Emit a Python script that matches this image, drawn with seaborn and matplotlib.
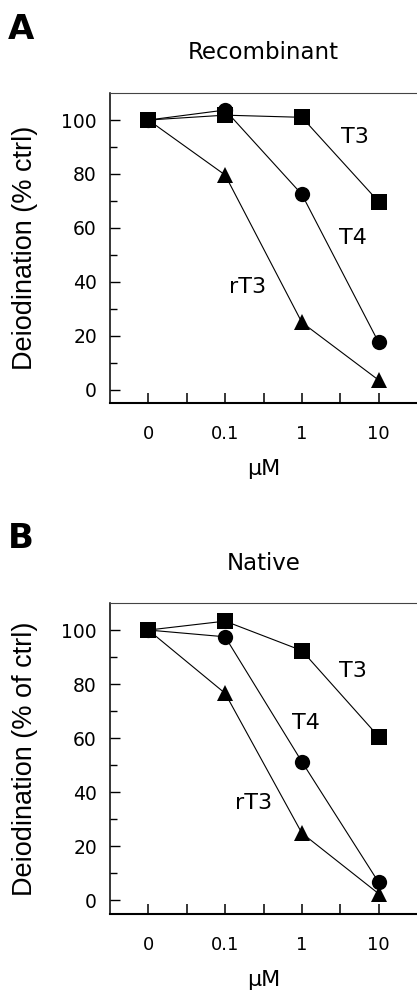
import pandas as pd
import matplotlib
matplotlib.use("Agg")
import matplotlib.pyplot as plt
import seaborn as sns
from matplotlib.ticker import FixedLocator

# === data ===
doses = ["0", "0.1", "1", "10"]
compounds = ["rT3", "T4", "T3"]  # drawing order, T3 ends up on top

recomb_t3 = [100, 101.8, 101.0, 69.7]
recomb_t4 = [100, 103.7, 72.4, 17.5]
recomb_rt3 = [100, 79.6, 24.9, 3.5]

native_t3 = [100, 103.3, 92.4, 60.6]
native_t4 = [100, 97.5, 51.3, 6.7]
native_rt3 = [100, 76.6, 24.9, 2.5]

y_ticks = [0, 20, 40, 60, 80, 100]


def make_long(t3, t4, rt3):
    rows = []
    for name, vals in [("rT3", rt3), ("T4", t4), ("T3", t3)]:
        for d, v in zip(doses, vals):
            rows.append({"dose": d, "compound": name, "value": v})
    return pd.DataFrame(rows)


recomb = make_long(recomb_t3, recomb_t4, recomb_rt3)
native = make_long(native_t3, native_t4, native_rt3)

# === style ===
sns.set_style("ticks")
plt.rcParams["font.family"] = ["DejaVu Sans"]
plt.rcParams["text.color"] = "black"
plt.rcParams["axes.labelcolor"] = "black"
plt.rcParams["xtick.color"] = "black"
plt.rcParams["ytick.color"] = "black"
plt.rcParams["xtick.direction"] = "in"
plt.rcParams["ytick.direction"] = "in"

fig = plt.figure(figsize=(4.17, 9.9), dpi=100)
ax_a = fig.add_axes([0.2638, 0.5929, 0.7362, 0.3131])
ax_b = fig.add_axes([0.2638, 0.0768, 0.7362, 0.3141])

markers = {"T3": "s", "T4": "o", "rT3": "^"}


def draw_panel(ax, df, ylabel, labels):
    sns.lineplot(data=df, x="dose", y="value", style="compound",
                 style_order=compounds, markers=markers, dashes=False,
                 color="black", linewidth=0.8, markersize=11,
                 markeredgecolor="black", markeredgewidth=0,
                 legend=False, ax=ax)
    ax.set_xlim(-0.5, 3.5)
    ax.set_ylim(-5, 110)
    ax.yaxis.set_major_locator(FixedLocator(y_ticks))
    ax.yaxis.set_minor_locator(FixedLocator([10, 30, 50, 70, 90]))
    ax.xaxis.set_minor_locator(FixedLocator([0.5, 1.5, 2.5]))
    ax.tick_params(axis="x", which="both", direction="in", length=7.2,
                   width=1.1, pad=16, labelsize=13, color="black",
                   labelcolor="black")
    ax.tick_params(axis="y", which="major", direction="in", length=7.2,
                   width=1.0, pad=9.4, labelsize=13.5, color="black",
                   labelcolor="black")
    ax.tick_params(axis="y", which="minor", direction="in", length=5,
                   width=1.0, color="black")
    ax.spines["right"].set_visible(False)
    ax.spines["bottom"].set_linewidth(1.5)
    ax.spines["left"].set_linewidth(1.1)
    ax.spines["top"].set_linewidth(0.8)
    ax.spines["top"].set_color("#444444")
    for s in ["bottom", "left"]:
        ax.spines[s].set_color("black")

    ax.set_ylabel(ylabel, fontsize=19.5, family="Liberation Sans", va="bottom")
    ax.yaxis.set_label_coords(-0.234, 0.5)
    ax.set_xlabel("µM", fontsize=16, va="baseline")
    ax.xaxis.set_label_coords(0.5, -0.232)

    for text, x, y in labels:
        ax.text(x, y, text, fontsize=16, ha="center", va="center")


draw_panel(ax_a, recomb, "Deiodination (% ctrl)",
           [("T3", 2.69, 93.7), ("T4", 2.666, 56.2), ("rT3", 1.298, 38.0)])
draw_panel(ax_b, native, "Deiodination (% of ctrl)",
           [("T3", 2.666, 84.9), ("T4", 2.054, 65.6), ("rT3", 1.376, 36.0)])

# titles and panel letters
fig.text(0.632, 0.9404, "Recombinant", fontsize=16.5, ha="center", va="baseline")
fig.text(0.632, 0.4242, "Native", fontsize=16.5, ha="center", va="baseline")
fig.text(0.050, 0.9606, "A", fontsize=24.5, fontweight="bold", ha="center", va="baseline")
fig.text(0.050, 0.4465, "B", fontsize=24.5, fontweight="bold", ha="center", va="baseline")

fig.savefig("out.png", dpi=100, facecolor="white")
